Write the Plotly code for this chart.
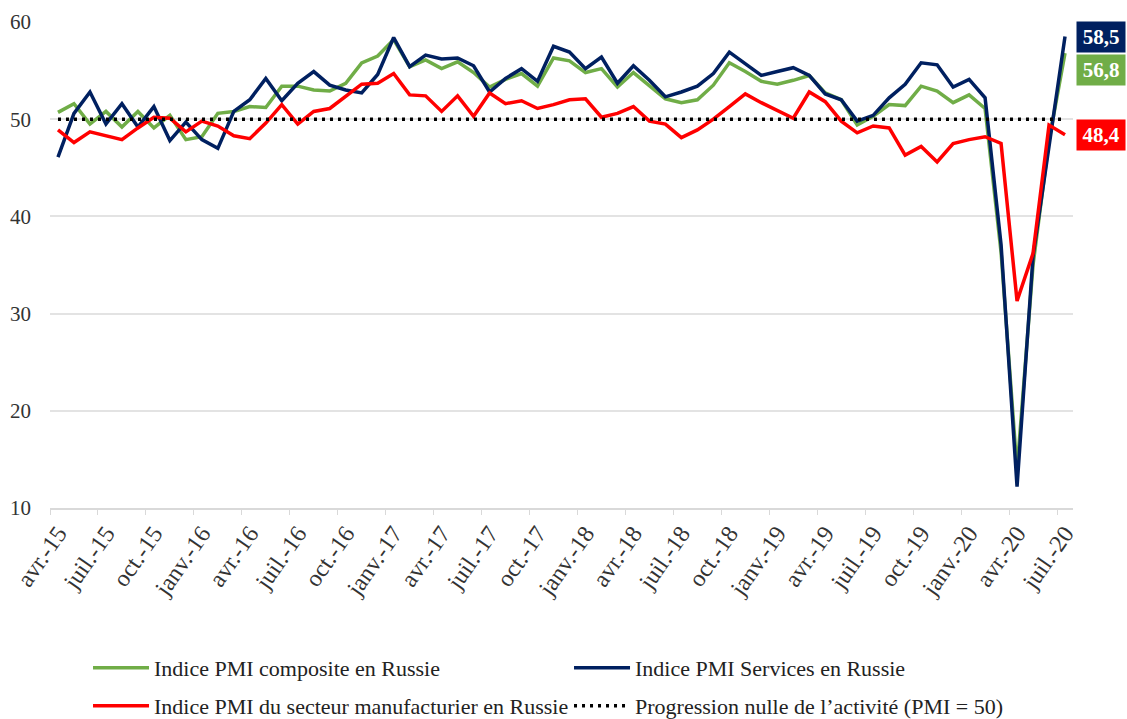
import plotly.graph_objects as go

categories = [
    "avr.-15", "mai-15", "juin-15", "juil.-15", "août-15", "sept.-15", "oct.-15", "nov.-15", "déc.-15",
    "janv.-16", "févr.-16", "mars-16", "avr.-16", "mai-16", "juin-16", "juil.-16", "août-16", "sept.-16", "oct.-16", "nov.-16", "déc.-16",
    "janv.-17", "févr.-17", "mars-17", "avr.-17", "mai-17", "juin-17", "juil.-17", "août-17", "sept.-17", "oct.-17", "nov.-17", "déc.-17",
    "janv.-18", "févr.-18", "mars-18", "avr.-18", "mai-18", "juin-18", "juil.-18", "août-18", "sept.-18", "oct.-18", "nov.-18", "déc.-18",
    "janv.-19", "févr.-19", "mars-19", "avr.-19", "mai-19", "juin-19", "juil.-19", "août-19", "sept.-19", "oct.-19", "nov.-19", "déc.-19",
    "janv.-20", "févr.-20", "mars-20", "avr.-20", "mai-20", "juin-20", "juil.-20",
]

composite = [
    50.7, 51.6, 49.5, 50.8, 49.2, 50.8, 49.1, 50.4, 47.9,
    48.2, 50.6, 50.8, 51.3, 51.2, 53.4, 53.4, 53.0, 52.9, 53.7, 55.8, 56.5,
    58.2, 55.4, 56.1, 55.2, 55.9, 54.8, 53.3, 54.1, 54.7, 53.4, 56.3, 56.0,
    54.8, 55.2, 53.3, 54.8, 53.5, 52.1, 51.7, 52.0, 53.5, 55.8, 54.9, 53.9,
    53.6, 54.0, 54.5, 52.7, 52.0, 49.4, 50.3, 51.5, 51.4, 53.4, 52.9, 51.7,
    52.5, 51.1, 36.3, 13.9, 35.0, 47.8, 56.8,
]

services = [
    46.1, 50.6, 52.8, 49.5, 51.6, 49.2, 51.3, 47.8, 49.7,
    47.9, 47.0, 50.8, 52.0, 54.2, 51.9, 53.7, 54.9, 53.5, 53.0, 52.7, 54.6,
    58.4, 55.4, 56.6, 56.2, 56.3, 55.5, 52.8, 54.2, 55.2, 53.9, 57.5, 56.9,
    55.2, 56.4, 53.7, 55.5, 54.0, 52.3, 52.8, 53.4, 54.7, 56.9, 55.7, 54.5,
    54.9, 55.3, 54.5, 52.6, 52.0, 49.8, 50.4, 52.2, 53.6, 55.8, 55.6, 53.3,
    54.1, 52.2, 37.1, 12.2, 35.9, 47.3, 58.5,
]

manufacturing = [
    48.9, 47.6, 48.7, 48.3, 47.9, 49.1, 50.2, 50.1, 48.7,
    49.8, 49.3, 48.3, 48.0, 49.6, 51.5, 49.5, 50.8, 51.1, 52.4, 53.6, 53.7,
    54.7, 52.5, 52.4, 50.8, 52.4, 50.3, 52.7, 51.6, 51.9, 51.1, 51.5, 52.0,
    52.1, 50.2, 50.6, 51.3, 49.8, 49.5, 48.1, 48.9, 50.0, 51.3, 52.6, 51.7,
    50.9, 50.1, 52.8, 51.8, 49.8, 48.6, 49.3, 49.1, 46.3, 47.2, 45.6, 47.5,
    47.9, 48.2, 47.5, 31.3, 36.2, 49.4, 48.4,
]

neutral_level = [50] * len(categories)

series_names = [
    "Indice PMI composite en Russie",
    "Indice PMI Services en Russie",
    "Indice PMI du secteur manufacturier en Russie",
    "Progression nulle de l\u2019activité (PMI = 50)",
]

GREEN = "#70AD47"
NAVY = "#002060"
RED = "#FF0000"
FONT = "Liberation Serif"

fig = go.Figure()
fig.add_trace(go.Scatter(x=categories, y=composite, mode="lines", name=series_names[0],
                         line=dict(color=GREEN, width=3.5), legend="legend"))
fig.add_trace(go.Scatter(x=categories, y=services, mode="lines", name=series_names[1],
                         line=dict(color=NAVY, width=3.5), legend="legend2"))
fig.add_trace(go.Scatter(x=categories, y=manufacturing, mode="lines", name=series_names[2],
                         line=dict(color=RED, width=3.5), legend="legend3"))
fig.add_trace(go.Scatter(x=categories, y=neutral_level, mode="lines", name=series_names[3],
                         line=dict(color="black", width=3.5, dash="3px,5px"), legend="legend4"))

# end-of-series value labels
labels = [
    (services[-1], NAVY, 0),
    (composite[-1], GREEN, -17),
    (manufacturing[-1], RED, 0),
]
for val, col, ys in labels:
    fig.add_annotation(
        xref="paper", yref="y", x=1, y=val, xanchor="left", yanchor="middle",
        xshift=3, yshift=ys,
        text="<b>" + f"{val:.1f}".replace(".", ",") + "</b>",
        font=dict(family=FONT, size=21, color="white"),
        bgcolor=col, borderpad=3, showarrow=False, width=42,
    )

def legend_at(xc, yc):
    return dict(
        xref="container", yref="container", x=xc, y=yc,
        xanchor="left", yanchor="middle",
        font=dict(family=FONT, size=22, color="#222"),
        bgcolor="rgba(0,0,0,0)", itemwidth=56,
        orientation="h",
    )

col1, col2 = 0.0781, 0.5049
row1, row2 = 1 - 668 / 719, 1 - 706 / 719
fig.update_layout(
    width=1127, height=719,
    margin=dict(l=50, r=54, t=22, b=211, autoexpand=False),
    paper_bgcolor="white", plot_bgcolor="white",
    showlegend=True,
    legend=legend_at(col1, row1),
    legend2=legend_at(col2, row1),
    legend3=legend_at(col1, row2),
    legend4=legend_at(col2, row2),
    xaxis=dict(
        type="category", categoryarray=categories, categoryorder="array",
        range=[-0.5, len(categories) - 0.5],
        tickmode="linear", tick0=0, dtick=3, tickson="boundaries",
        ticks="outside", ticklen=5, tickcolor="#d9d9d9",
        showline=True, linecolor="#d9d9d9", linewidth=1.5,
        showgrid=False, tickangle=-55, automargin=False,
        tickfont=dict(family=FONT, size=24, color="#333"),
    ),
    yaxis=dict(
        range=[10, 60], dtick=10, tick0=10,
        showgrid=True, gridcolor="#e3e3e3", gridwidth=1.5,
        zeroline=False, showline=False, ticks="", automargin=False,
        ticklabelstandoff=18,
        tickfont=dict(family=FONT, size=21, color="#333"),
    ),
)

fig.write_html(
    "out.html",
    config={"displayModeBar": False},
    post_script="document.body.style.margin='0';document.body.style.overflow='hidden';",
)
